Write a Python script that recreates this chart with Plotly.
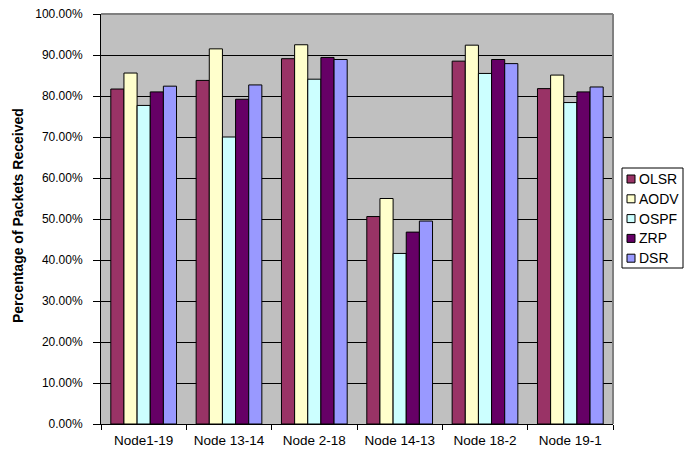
import plotly.graph_objects as go

categories = ["Node1-19", "Node 13-14", "Node 2-18", "Node 14-13", "Node 18-2", "Node 19-1"]
series_names = ["OLSR", "AODV", "OSPF", "ZRP", "DSR"]
olsr = [0.817, 0.838, 0.891, 0.506, 0.885, 0.818]
aodv = [0.856, 0.915, 0.925, 0.550, 0.924, 0.851]
ospf = [0.777, 0.700, 0.841, 0.416, 0.855, 0.784]
zrp = [0.810, 0.792, 0.894, 0.468, 0.889, 0.810]
dsr = [0.824, 0.827, 0.889, 0.495, 0.879, 0.822]
series_values = [olsr, aodv, ospf, zrp, dsr]
colors = ["#993366", "#FFFFCC", "#CCFFFF", "#660066", "#9999FF"]

fig = go.Figure()
for name, vals, col in zip(series_names, series_values, colors):
    fig.add_trace(go.Bar(
        x=categories, y=vals, name=name,
        marker=dict(color=col, line=dict(color="black", width=1)),
        showlegend=False,
    ))

W, H = 689, 455
L, R, T, B = 101, 76, 14, 31
pw = W - L - R
ph = H - T - B


def px_x(px):
    return (px - L) / pw


def px_y(py):
    return (H - B - py) / ph


fig.update_layout(
    width=W, height=H,
    margin=dict(l=L, r=R, t=T, b=B, autoexpand=False),
    paper_bgcolor="white",
    plot_bgcolor="#C0C0C0",
    barmode="group",
    bargap=0.23,
    bargroupgap=0,
    font=dict(family="Liberation Sans, Arial, sans-serif", color="black"),
    showlegend=False,
)

fig.update_yaxes(
    range=[0, 1], dtick=0.1, tickformat=".2%",
    showgrid=True, gridcolor="black", gridwidth=1,
    ticks="outside", ticklen=7, tickcolor="black",
    showline=True, linecolor="black", linewidth=1,
    tickfont=dict(size=12),
    ticklabelstandoff=8,
    zeroline=False,
    automargin=False,
)
fig.update_xaxes(
    tickson="boundaries", ticks="outside", ticklen=5, tickcolor="black",
    showline=True, linecolor="black", linewidth=1,
    tickfont=dict(size=13.5),
    ticklabelstandoff=4,
    automargin=False,
)

# gray border on top and right of plot area
fig.add_shape(type="line", xref="paper", yref="paper", x0=0, x1=1, y0=1, y1=1,
              line=dict(color="#808080", width=2))
fig.add_shape(type="line", xref="paper", yref="paper", x0=1, x1=1, y0=0, y1=1,
              line=dict(color="#808080", width=2))

# legend box built from series names and colours
fig.add_shape(type="rect", xref="paper", yref="paper",
              x0=px_x(622), x1=px_x(683), y0=px_y(268), y1=px_y(168),
              line=dict(color="black", width=1), fillcolor="white")
for i, (name, col) in enumerate(zip(series_names, colors)):
    cy = 179 + i * 19.8
    fig.add_shape(type="rect", xref="paper", yref="paper",
                  x0=px_x(627), x1=px_x(635), y0=px_y(cy + 4), y1=px_y(cy - 4),
                  line=dict(color="black", width=1), fillcolor=col)
    fig.add_annotation(text=name, xref="paper", yref="paper",
                       x=px_x(638), y=px_y(cy), xanchor="left", yanchor="middle",
                       showarrow=False, font=dict(size=14), borderpad=0)

fig.add_annotation(
    text="<b>Percentage of Packets Received</b>",
    xref="paper", yref="paper",
    x=px_x(18), y=px_y(216),
    xanchor="center", yanchor="middle",
    textangle=-90, showarrow=False,
    font=dict(size=14),
)

fig.write_html("out.html")
